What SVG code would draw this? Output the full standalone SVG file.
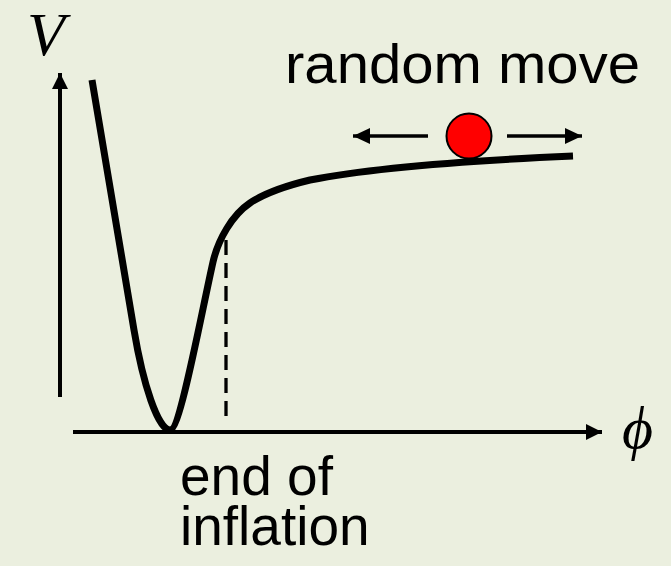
<svg xmlns="http://www.w3.org/2000/svg" width="671" height="566" viewBox="0 0 671 566">
  <style>
    .lbl { font-family: "Liberation Sans", Arial, sans-serif; font-size: 55px; fill: #000; }
    .math { font-family: "Liberation Serif", "DejaVu Serif", serif; font-style: italic; fill: #000; }
    .axis { stroke: #000; stroke-width: 4; fill: none; }
    .small { stroke: #000; stroke-width: 3.5; fill: none; }
  </style>
  <defs>
    <marker id="ah" viewBox="0 0 16 16" refX="16" refY="8" markerWidth="16" markerHeight="16" markerUnits="userSpaceOnUse" orient="auto">
      <path d="M0,0 L16,8 L0,16 Z" fill="#000"/>
    </marker>
    <marker id="ahs" viewBox="0 0 17 16" refX="17" refY="8" markerWidth="17" markerHeight="16" markerUnits="userSpaceOnUse" orient="auto">
      <path d="M0,0 L17,8 L0,16 Z" fill="#000"/>
    </marker>
  </defs>
  <rect width="671" height="566" fill="#EBEFDF"/>

  <g id="connectors">
    <line id="v-axis" class="axis" x1="60" y1="397" x2="60" y2="73" marker-end="url(#ah)"/>
    <line id="phi-axis" class="axis" x1="73" y1="432" x2="602" y2="432" marker-end="url(#ah)"/>
    <line id="move-left" class="small" x1="428" y1="136" x2="353" y2="136" marker-end="url(#ahs)"/>
    <line id="move-right" class="small" x1="507" y1="136" x2="582" y2="136" marker-end="url(#ahs)"/>
    <line id="end-marker" x1="226" y1="240" x2="226" y2="423" stroke="#000" stroke-width="3.3" stroke-dasharray="15 8"/>
  </g>

  <g id="potential">
    <path d="M92,80 L134,330 C143,384 158,430 170,430 C180,430 200,320 213,262 C218,240 232,215 250,203 C262,195 285,186 310,180 C380,166 480,160 573,156" fill="none" stroke="#000" stroke-width="7" stroke-linejoin="round"/>
  </g>

  <g id="ball">
    <circle cx="469" cy="136" r="22.5" fill="#FF0000" stroke="#000" stroke-width="2"/>
  </g>

  <g id="label-V">
    <text class="math" x="27" y="55" font-size="62">V</text>
  </g>
  <g id="label-phi">
    <text class="math" x="622" y="448" font-size="60">ϕ</text>
  </g>
  <g id="label-random">
    <text class="lbl" x="285" y="83" textLength="355" lengthAdjust="spacingAndGlyphs">random move</text>
  </g>
  <g id="label-end">
    <text class="lbl" x="180" y="495">end of</text>
    <text class="lbl" x="180" y="545">inflation</text>
  </g>
</svg>
